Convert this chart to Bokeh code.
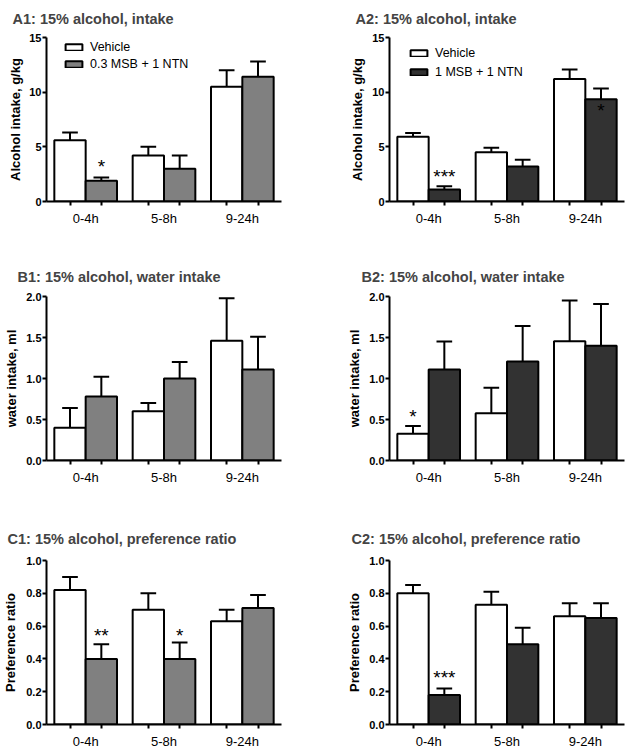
from bokeh.plotting import figure
from bokeh.models import FixedTicker, Legend, LegendItem, Range1d, NumeralTickFormatter
from bokeh.layouts import column, row
from bokeh.embed import file_html
from bokeh.resources import INLINE
from bokeh.core.properties import value

groups = ["0-4h", "5-8h", "9-24h"]

# A: alcohol intake, g/kg
a1_vehicle = [5.6, 4.2, 10.5]
a1_vehicle_err = [0.7, 0.8, 1.5]
a1_treat = [1.9, 3.0, 11.4]
a1_treat_err = [0.3, 1.2, 1.4]

a2_vehicle = [5.93, 4.5, 11.2]
a2_vehicle_err = [0.34, 0.42, 0.88]
a2_treat = [1.1, 3.2, 9.36]
a2_treat_err = [0.3, 0.62, 0.98]

# B: water intake, ml
b1_vehicle = [0.40, 0.60, 1.46]
b1_vehicle_err = [0.24, 0.10, 0.52]
b1_treat = [0.78, 1.00, 1.11]
b1_treat_err = [0.24, 0.20, 0.40]

b2_vehicle = [0.325, 0.577, 1.455]
b2_vehicle_err = [0.095, 0.31, 0.495]
b2_treat = [1.11, 1.207, 1.40]
b2_treat_err = [0.34, 0.433, 0.51]

# C: preference ratio
c1_vehicle = [0.82, 0.70, 0.63]
c1_vehicle_err = [0.08, 0.10, 0.07]
c1_treat = [0.40, 0.40, 0.71]
c1_treat_err = [0.09, 0.10, 0.08]

c2_vehicle = [0.80, 0.73, 0.66]
c2_vehicle_err = [0.05, 0.08, 0.08]
c2_treat = [0.18, 0.49, 0.65]
c2_treat_err = [0.04, 0.10, 0.09]

# significance marks: (group index, series, text, y value)
a1_marks = [(0, "treat", "*", 3.5)]
a2_marks = [(0, "treat", "***", 2.53), (2, "treat", "*", 8.57)]
b1_marks = []
b2_marks = [(0, "vehicle", "*", 0.577)]
c1_marks = [(0, "treat", "**", 0.563), (1, "treat", "*", 0.563)]
c2_marks = [(0, "treat", "***", 0.305)]

a_ticks = [0, 5, 10, 15]
b_ticks = [0, 0.5, 1.0, 1.5, 2.0]
c_ticks = [0, 0.2, 0.4, 0.6, 0.8, 1.0]

FONT = "Liberation Sans"
GREY = "#808080"
DARK = "#323232"


def panel(title, ylabel, veh, veh_err, trt, trt_err, marks, yticks, ymax,
          treat_color, fmt, width, height, left, top, bottom, right,
          title_offset, title_standoff, label_standoff,
          legend_label=None, legend_loc=None, legend_spacing=2):
    p = figure(width=width, height=height, output_backend="svg", toolbar_location=None,
               x_range=Range1d(-0.5, 2.5), y_range=Range1d(0, ymax),
               min_border_left=left, min_border_right=right,
               min_border_top=top, min_border_bottom=bottom)
    p.outline_line_color = None
    p.grid.visible = False
    p.background_fill_color = "white"

    xv = [i - 0.2 for i in range(len(groups))]
    xt = [i + 0.2 for i in range(len(groups))]
    rv = p.vbar(x=xv, top=veh, width=0.4, bottom=0, fill_color="white",
                line_color="black", line_width=2)
    rt = p.vbar(x=xt, top=trt, width=0.4, bottom=0, fill_color=treat_color,
                line_color="black", line_width=2)
    for xs, tops, errs in ((xv, veh, veh_err), (xt, trt, trt_err)):
        hi = [t + e for t, e in zip(tops, errs)]
        p.segment(x0=xs, y0=tops, x1=xs, y1=hi, line_color="black", line_width=2)
        p.segment(x0=[x - 0.1 for x in xs], y0=hi, x1=[x + 0.1 for x in xs], y1=hi,
                  line_color="black", line_width=2)

    if marks:
        mx = [(g - 0.2 if s == "vehicle" else g + 0.2) for g, s, _, _ in marks]
        my = [m[3] for m in marks]
        mt = [m[2] for m in marks]
        p.text(x=mx, y=my, text=mt, text_align="center", text_baseline="middle",
               text_font=value(FONT), text_font_size="19px", text_color="black",
               y_offset=3)

    # title
    p.title.text = title
    p.title.text_font = FONT
    p.title.text_font_size = "14.5px"
    p.title.text_font_style = "bold"
    p.title.align = "left"
    p.title.vertical_align = "top"
    p.title.offset = title_offset
    p.title.standoff = title_standoff

    # x axis
    xa = p.xaxis[0]
    xa.ticker = FixedTicker(ticks=[0, 1, 2],
                            minor_ticks=[-0.2, 0.2, 0.8, 1.2, 1.8, 2.2])
    xa.major_label_overrides = {i: g for i, g in enumerate(groups)}
    xa.major_tick_out = 0
    xa.major_tick_in = 0
    xa.minor_tick_out = 4
    xa.minor_tick_in = 0
    xa.minor_tick_line_width = 2
    xa.minor_tick_line_color = "black"
    xa.axis_line_width = 2
    xa.axis_line_color = "black"
    xa.major_label_text_font = FONT
    xa.major_label_text_font_size = "13px"
    xa.major_label_text_color = "black"
    xa.major_label_standoff = 5

    # y axis
    ya = p.yaxis[0]
    ya.ticker = FixedTicker(ticks=yticks, minor_ticks=[])
    if fmt:
        ya.formatter = NumeralTickFormatter(format=fmt)
    ya.major_tick_out = 4
    ya.major_tick_in = 0
    ya.major_tick_line_width = 2
    ya.major_tick_line_color = "black"
    ya.axis_line_width = 2
    ya.axis_line_color = "black"
    ya.major_label_text_font = FONT
    ya.major_label_text_font_size = "11px"
    ya.major_label_text_font_style = "bold"
    ya.major_label_text_color = "black"
    ya.major_label_standoff = 1
    ya.axis_label = ylabel
    ya.axis_label_text_font = FONT
    ya.axis_label_text_font_size = "13px"
    ya.axis_label_text_font_style = "bold"
    ya.axis_label_text_color = "black"
    ya.axis_label_standoff = label_standoff

    if legend_label:
        lg = Legend(items=[LegendItem(label="Vehicle", renderers=[rv]),
                           LegendItem(label=legend_label, renderers=[rt])],
                    location=legend_loc, glyph_width=21, glyph_height=8,
                    label_height=15, spacing=legend_spacing, padding=0, margin=0,
                    border_line_color=None, background_fill_alpha=0,
                    label_text_font=FONT, label_text_font_size="12.5px",
                    label_text_color="black", label_standoff=6)
        p.add_layout(lg)
    return p


WL = 316
WR = 316
a1 = panel("A1: 15% alcohol, intake", "Alcohol intake, g/kg", a1_vehicle, a1_vehicle_err,
           a1_treat, a1_treat_err, a1_marks, a_ticks, 15, GREY, None,
           WL, 250, 46, 37, 49, 35, -34, 17, 3, "0.3 MSB + 1 NTN", (17, 130), 2)
a2 = panel("A2: 15% alcohol, intake", "Alcohol intake, g/kg", a2_vehicle, a2_vehicle_err,
           a2_treat, a2_treat_err, a2_marks, a_ticks, 15, DARK, None,
           WR, 250, 73, 37, 49, 8, -34, 17, 4, "1 MSB + 1 NTN", (19, 122), 4)
b1 = panel("B1: 15% alcohol, water intake", "water intake, ml", b1_vehicle, b1_vehicle_err,
           b1_treat, b1_treat_err, b1_marks, b_ticks, 2.0, GREY, "0.0",
           WL, 250, 46, 46, 40, 35, -29, 20, 4)
b2 = panel("B2: 15% alcohol, water intake", "water intake, ml", b2_vehicle, b2_vehicle_err,
           b2_treat, b2_treat_err, b2_marks, b_ticks, 2.0, DARK, "0.0",
           WR, 250, 73, 46, 40, 8, -28, 20, 4)
c1 = panel("C1: 15% alcohol, preference ratio", "Preference ratio", c1_vehicle, c1_vehicle_err,
           c1_treat, c1_treat_err, c1_marks, c_ticks, 1.0, GREY, "0.0",
           WL, 252, 46, 60, 28, 35, -39, 23, 5)
c2 = panel("C2: 15% alcohol, preference ratio", "Preference ratio", c2_vehicle, c2_vehicle_err,
           c2_treat, c2_treat_err, c2_marks, c_ticks, 1.0, DARK, "0.0",
           WR, 252, 73, 60, 28, 8, -38, 23, 4)

layout = column(row(a1, a2), row(b1, b2), row(c1, c2))
open("out.html", "w").write(file_html(layout, INLINE))
